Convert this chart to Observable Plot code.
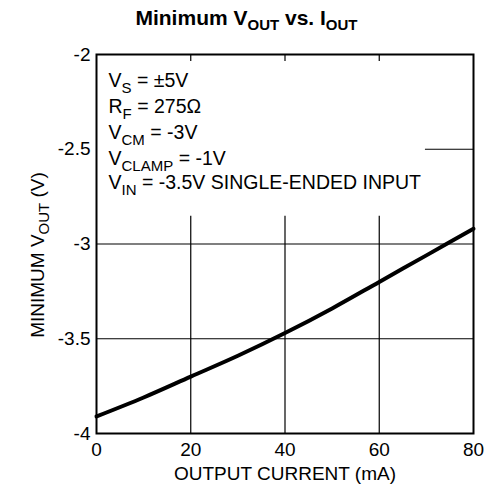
<!DOCTYPE html>
<html>
<head>
<meta charset="utf-8">
<script src="https://cdn.jsdelivr.net/npm/d3@7"></script>
<script src="https://cdn.jsdelivr.net/npm/@observablehq/plot@0.6"></script>
<style>
  html, body { margin: 0; padding: 0; background: #fff; }
  body { width: 493px; height: 497px; overflow: hidden; font-family: "Liberation Sans", Arial, sans-serif; }
  #title { height: 36px; box-sizing: border-box; padding-top: 7px; text-align: center; font-weight: bold; font-size: 21px; line-height: 22px; color: #000; }
  #title sub { font-size: 15px; vertical-align: -5px; line-height: 0; }
</style>
</head>
<body>
<div id="title">Minimum V<sub>OUT</sub> vs. I<sub>OUT</sub></div>
<div id="chart"></div>
<script>
// Data
const currentMA = [0, 10, 20, 30, 40, 50, 60, 70, 80];
const minVout   = [-3.91, -3.81, -3.70, -3.59, -3.47, -3.34, -3.20, -3.06, -2.92];

const xTicks = [0, 20, 40, 60, 80];
const yTicks = [-4, -3.5, -3, -2.5, -2];
const gridX = [20, 40, 60];
const gridYFull = [-3, -3.5];
const gridYPartial = [-2.5];

// annotation block
const annMain = ["V", "R", "V", "V", "V"];
const annSub  = ["S", "F", "CM", "CLAMP", "IN"];
const annRest = [" = \u00b15V", " = 275\u03a9", " = -3V", " = -1V", " = -3.5V SINGLE-ENDED INPUT"];
const annY    = [-2.137, -2.274, -2.411, -2.548, -2.679];
const annX    = 2.55;
const annBoxBottom = -2.853;   // where the vertical grid lines stop below the text block
const annBoxRight = 69.8;      // where the -2.5 grid line resumes
const topTickEnd = -2.037;

const curve = currentMA.map((x, i) => ({x, y: minVout[i]}));
const ann = annMain.map((m, i) => ({main: m, sub: annSub[i], rest: annRest[i], y: annY[i], x: annX}));

const fmt = d => String(d);

const plot = Plot.plot({
  width: 493,
  height: 461,
  marginLeft: 96,
  marginRight: 20,
  marginTop: 18,
  marginBottom: 64,
  style: {fontFamily: "'Liberation Sans', Arial, sans-serif", fontSize: "19px", color: "#000", background: "#fff"},
  x: {domain: [0, 80]},
  y: {domain: [-4, -2]},
  marks: [
    Plot.ruleY(gridYFull, {stroke: "#000", strokeWidth: 1.2}),
    Plot.ruleY(gridYPartial, {x1: annBoxRight, x2: 80, stroke: "#000", strokeWidth: 1.2}),
    Plot.ruleX(gridX, {y1: -4, y2: annBoxBottom, stroke: "#000", strokeWidth: 1.2}),
    Plot.ruleX(gridX, {y1: -2, y2: topTickEnd, stroke: "#000", strokeWidth: 1.2}),
    Plot.line(curve, {x: "x", y: "y", curve: "monotone-x", stroke: "#000", strokeWidth: 4}),
    Plot.frame({stroke: "#000", strokeWidth: 2}),
    Plot.axisX({ticks: xTicks, tickSize: 0, tickPadding: 9, tickFormat: fmt, label: null, fontSize: 19}),
    Plot.axisY({ticks: yTicks, tickSize: 0, tickPadding: 6, tickFormat: fmt, label: null, fontSize: 19}),
    Plot.text(["OUTPUT CURRENT (mA)"], {frameAnchor: "bottom", dy: 46, fontSize: 19, text: d => d}),
    Plot.text(ann, {x: "x", y: "y", text: d => d.main + d.sub + d.rest, textAnchor: "start", fontSize: 19.5, className: "ann"}),
    Plot.text(["MINIMUM VOUT (V)"], {frameAnchor: "left", textAnchor: "middle", dx: -59, dy: 11, rotate: -90, fontSize: 19, text: d => d, className: "ylab"})
  ]
});

document.getElementById("chart").appendChild(plot);

function subscript(el, main, sub, rest, subSize, shift) {
  while (el.firstChild) el.removeChild(el.firstChild);
  const ns = "http://www.w3.org/2000/svg";
  const t1 = document.createElementNS(ns, "tspan"); t1.textContent = main;
  const t2 = document.createElementNS(ns, "tspan"); t2.textContent = sub;
  t2.setAttribute("dy", shift); t2.setAttribute("font-size", subSize);
  const t3 = document.createElementNS(ns, "tspan"); t3.textContent = rest;
  t3.setAttribute("dy", -shift);
  el.appendChild(t1); el.appendChild(t2); el.appendChild(t3);
}

plot.querySelectorAll("g.ann text").forEach((el, i) => {
  subscript(el, ann[i].main, ann[i].sub, ann[i].rest, 15, 6);
});
plot.querySelectorAll("g.ylab text").forEach(el => {
  subscript(el, "MINIMUM V", "OUT", " (V)", 15, 5);
});
</script>
</body>
</html>
